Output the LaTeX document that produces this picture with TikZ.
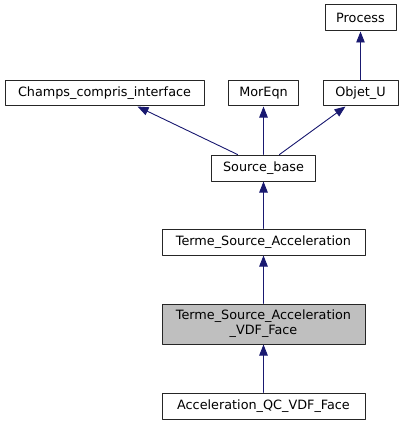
\documentclass[tikz,border=0pt]{standalone}
\usepackage{fontspec}
\setmainfont{DejaVu Sans}
\usetikzlibrary{arrows.meta}
\usetikzlibrary{positioning}
\definecolor{edgeblue}{HTML}{191970}
\tikzstyle{every node}=[font=\fontsize{12.8}{15}\selectfont]
\tikzstyle{every path}=[line width=1pt,line cap=round,line join=round]
\tikzstyle{cls}=[draw=black!85,rectangle,inner sep=0pt,minimum height=26pt]
\tikzstyle{arr}=[draw=edgeblue,line width=0.9pt,-{Triangle[length=11pt,width=8.5pt]}]

\begin{document}
\begin{tikzpicture}[x=1pt,y=-1pt]
\useasboundingbox (0,0) rectangle (403,425);
%классы
\node[cls,minimum width=71pt] (proc) at (360.5,18) {Process};
\node[cls,minimum width=199pt,minimum height=25pt] (cci) at (104.5,93.5) {Champs\_compris\_interface};
\node[cls,minimum width=70pt,minimum height=25pt] (mor) at (263.5,93.5) {MorEqn};
\node[cls,minimum width=75pt,minimum height=25pt] (obj) at (360.5,93.5) {Objet\_U};
\node[cls,minimum width=104pt] (sb) at (263.5,168) {Source\_base};
\node[cls,minimum width=203pt] (tsa) at (263.5,242) {Terme\_Source\_Acceleration};
\node[cls,minimum width=203pt,minimum height=40pt,fill=black!25,align=center] (vdf) at (263.5,324) {Terme\_Source\_Acceleration\\\_VDF\_Face};
\node[cls,minimum width=203pt] (aqc) at (263.5,406) {Acceleration\_QC\_VDF\_Face};
%наследование
\draw[arr] (obj) -- (proc);
\draw[arr] ([xshift=-26pt]sb.north) -- ([xshift=33pt]cci.south);
\draw[arr] (sb) -- (mor);
\draw[arr] ([xshift=16pt]sb.north) -- ([xshift=-15pt]obj.south);
\draw[arr] (tsa) -- (sb);
\draw[arr] (vdf) -- (tsa);
\draw[arr] (aqc) -- (vdf);
\end{tikzpicture}
\end{document}
